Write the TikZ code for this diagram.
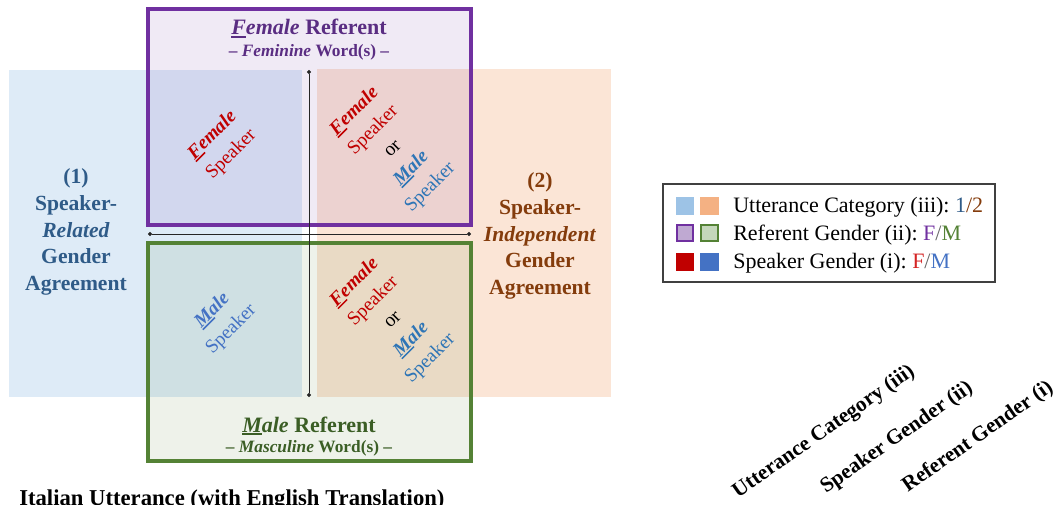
\documentclass[tikz,border=0pt]{standalone}
\usepackage{fontspec}
\setmainfont{Liberation Serif}
\usetikzlibrary{arrows.meta}

% palette
\definecolor{catone}{HTML}{DEEBF7}
\definecolor{cattwo}{HTML}{FBE5D6}
\definecolor{refF}{HTML}{7030A0}
\definecolor{refM}{HTML}{548235}
\definecolor{txtone}{HTML}{2F5B88}
\definecolor{txttwo}{HTML}{843C0C}
\definecolor{ttlF}{HTML}{5A2D82}
\definecolor{ttlM}{HTML}{3B5E25}
\definecolor{spkF}{HTML}{C00000}
\definecolor{spkM}{HTML}{4472C4}
\definecolor{spkMb}{HTML}{2E75B6}
\definecolor{sqone}{HTML}{9DC3E6}
\definecolor{sqtwo}{HTML}{F4B183}
\definecolor{sqF}{HTML}{BFA9D2}
\definecolor{sqM}{HTML}{C5D7BB}
\definecolor{legF}{HTML}{D42424}

% underline the first letter of a word
\newcommand\ufirst[1]{\setbox0\hbox{#1}\rlap{\rule[-0.14em]{\wd0}{0.075em}}\box0}

\begin{document}
\begin{tikzpicture}[x=0.75pt,y=-0.75pt,
  quad/.style={rotate=45, align=center, font=\fontsize{14.5}{20}\selectfont},
  ttl/.style={anchor=base, inner sep=0pt, font=\bfseries\fontsize{16.5}{18}\selectfont},
  subttl/.style={anchor=base, inner sep=0pt, font=\bfseries\fontsize{13}{15}\selectfont},
  cat/.style={align=center, font=\bfseries\fontsize{16.2}{20}\selectfont},
  leg/.style={anchor=base west, inner sep=0pt, font=\fontsize{16.5}{18}\selectfont},
  sq/.style={minimum width=14pt, minimum height=13pt, inner sep=0pt},
  axislbl/.style={rotate=35, font=\bfseries\fontsize{16}{18}\selectfont},
  dotline/.style={line width=0.7pt, black!85, {Circle[length=3pt]}-{Circle[length=3pt]}},
]
\useasboundingbox (0,0) rectangle (1062,505);
\clip (0,0) rectangle (1062,505);

% utterance categories
\fill[catone] (9,70) rectangle (302,397);
\fill[cattwo] (317,69) rectangle (611,397);

% referent gender boxes
\fill[refF, fill opacity=0.1] (148,9) rectangle (471,225);
\fill[refM, fill opacity=0.1] (148,243) rectangle (471,461);
\draw[refF, line width=2.3pt] (148,9) rectangle (471,225);
\draw[refM, line width=2.3pt] (148,243) rectangle (471,461);

% axes with dot ends
\coordinate (vt) at (309,70);
\coordinate (vb) at (309,397);
\coordinate (hl) at (148,234);
\coordinate (hr) at (471,234);
\draw[dotline] (vt) -- (vb);
\draw[dotline] (hl) -- (hr);

% referent titles
\node[ttl, text=ttlF] (tF) at (309,35) {{\itshape\ufirst{F}emale} Referent};
\node[subttl, text=ttlF] (sF) at (309,57) {-- {\itshape Feminine} Word(s) --};
\node[ttl, text=ttlM] (tM) at (309,432) {{\itshape\ufirst{M}ale} Referent};
\node[subttl, text=ttlM] (sM) at (309,452) {-- {\itshape Masculine} Word(s) --};

% category labels
\node[cat, text=txtone] (c1) at (76,232) {(1)\\Speaker-\\\textit{Related}\\Gender\\Agreement};
\node[cat, text=txttwo] (c2) at (540,236) {(2)\\Speaker-\\\textit{Independent}\\Gender\\Agreement};

% speaker gender in each quadrant
\node[quad, text=spkF] (qtl) at (222,145) {\textbf{\textit{\ufirst{F}emale}}\\Speaker};
\node[quad, text=spkF] (qtrf) at (364,121) {\textbf{\textit{\ufirst{F}emale}}\\Speaker};
\node[quad] (qtro) at (393,149) {or};
\node[quad, text=spkMb] (qtrm) at (421,178) {\textbf{\textit{\ufirst{M}ale}}\\Speaker};
\node[quad, text=spkM] (qbl) at (222,320) {\textbf{\textit{\ufirst{M}ale}}\\Speaker};
\node[quad, text=spkF] (qbrf) at (364,292) {\textbf{\textit{\ufirst{F}emale}}\\Speaker};
\node[quad] (qbro) at (393,320) {or};
\node[quad, text=spkMb] (qbrm) at (421,349) {\textbf{\textit{\ufirst{M}ale}}\\Speaker};

% legend
\draw[black!75, line width=1.1pt] (663,184) rectangle (995,282);
\node[sq, fill=sqone] (l1a) at (685,206) {};
\node[sq, fill=sqtwo] (l1b) at (709.5,206) {};
\node[sq, fill=sqF, draw=refF, line width=1.6pt, minimum width=12.5pt, minimum height=11.5pt] (l2a) at (685,233) {};
\node[sq, fill=sqM, draw=refM, line width=1.6pt, minimum width=12.5pt, minimum height=11.5pt] (l2b) at (709.5,233) {};
\node[sq, fill=spkF] (l3a) at (685,262) {};
\node[sq, fill=spkM] (l3b) at (709.5,262) {};
\node[leg] (lt1) at (733,213) {Utterance Category (iii):\ \textcolor{txtone}{1}\textcolor{txttwo}{/2}};
\node[leg] (lt2) at (733,241) {Referent Gender (ii):\ \textcolor{refF}{F}\textcolor{black!60}{/}\textcolor{refM}{M}};
\node[leg] (lt3) at (733,269) {Speaker Gender (i):\ \textcolor{legF}{F}\textcolor{black!60}{/}\textcolor{spkM}{M}};

% level labels
\node[axislbl] (a3) at (824,432) {Utterance Category (iii)};
\node[axislbl] (a2) at (897,438) {Speaker Gender (ii)};
\node[axislbl] (a1) at (978,437) {Referent Gender (i)};

% caption
\node[anchor=base west, inner sep=0pt, font=\bfseries\fontsize{17}{19}\selectfont] (cap) at (19,505) {Italian Utterance (with English Translation)};
\end{tikzpicture}
\end{document}
